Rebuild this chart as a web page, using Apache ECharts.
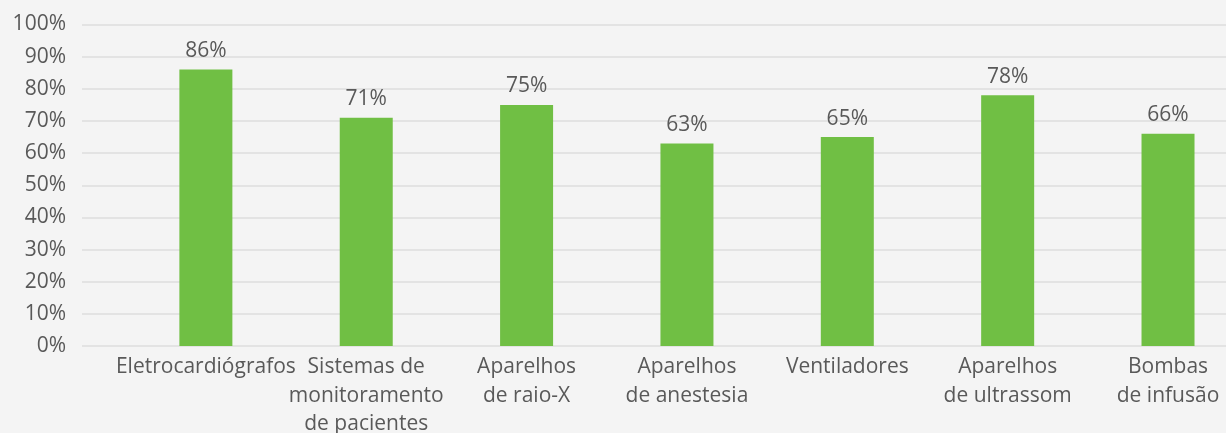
<!DOCTYPE html>
<html>
<head>
<meta charset="utf-8">
<script src="https://cdn.jsdelivr.net/npm/echarts@6/dist/echarts.min.js"></script>
<style>
html,body{margin:0;padding:0;background:#f4f4f4;}
#c{width:1226px;height:433px;}
</style>
</head>
<body>
<div id="c"></div>
<script>
const categories = [
  'Eletrocardiógrafos',
  'Sistemas de\nmonitoramento\nde pacientes',
  'Aparelhos\nde raio-X',
  'Aparelhos\nde anestesia',
  'Ventiladores',
  'Aparelhos\nde ultrassom',
  'Bombas\nde infusão'
];
const values = [86, 71, 75, 63, 65, 78, 66];
const yMin = 0, yMax = 100, yStep = 10;

const FONT = 'Open Sans';
const TXT = '#595959';

const chart = echarts.init(document.getElementById('c'));
chart.setOption({
  backgroundColor: '#f4f4f4',
  animation: false,
  textStyle: { fontFamily: FONT },
  grid: [
    { left: 82, right: 0, top: 24.5, bottom: 87, containLabel: false, outerBoundsMode: 'none' },
    { left: 125.7, width: 1122.5, top: 24.5, bottom: 87, containLabel: false, outerBoundsMode: 'none' }
  ],
  xAxis: [
    { gridIndex: 0, type: 'value', show: false, min: 0, max: 1 },
    {
      gridIndex: 1, type: 'category', data: categories,
      axisLine: { show: false }, axisTick: { show: false },
      axisLabel: { interval: 0, color: TXT, fontSize: 21, fontFamily: FONT, lineHeight: 28.5, margin: 7 }
    }
  ],
  yAxis: [
    {
      gridIndex: 0, type: 'value', min: yMin, max: yMax, interval: yStep,
      axisLine: { show: false }, axisTick: { show: false },
      axisLabel: { formatter: '{value}%', color: TXT, fontSize: 21, fontFamily: FONT, margin: 16 },
      splitLine: { lineStyle: { color: '#dedede', width: 1.5 } }
    },
    { gridIndex: 1, type: 'value', min: yMin, max: yMax, show: false }
  ],
  series: [{
    type: 'bar', xAxisIndex: 1, yAxisIndex: 1,
    data: values, barWidth: 53,
    itemStyle: { color: '#70bf44' },
    label: { show: true, position: 'top', distance: 8, formatter: '{c}%', color: TXT, fontSize: 21, fontFamily: FONT }
  }]
});
</script>
</body>
</html>
